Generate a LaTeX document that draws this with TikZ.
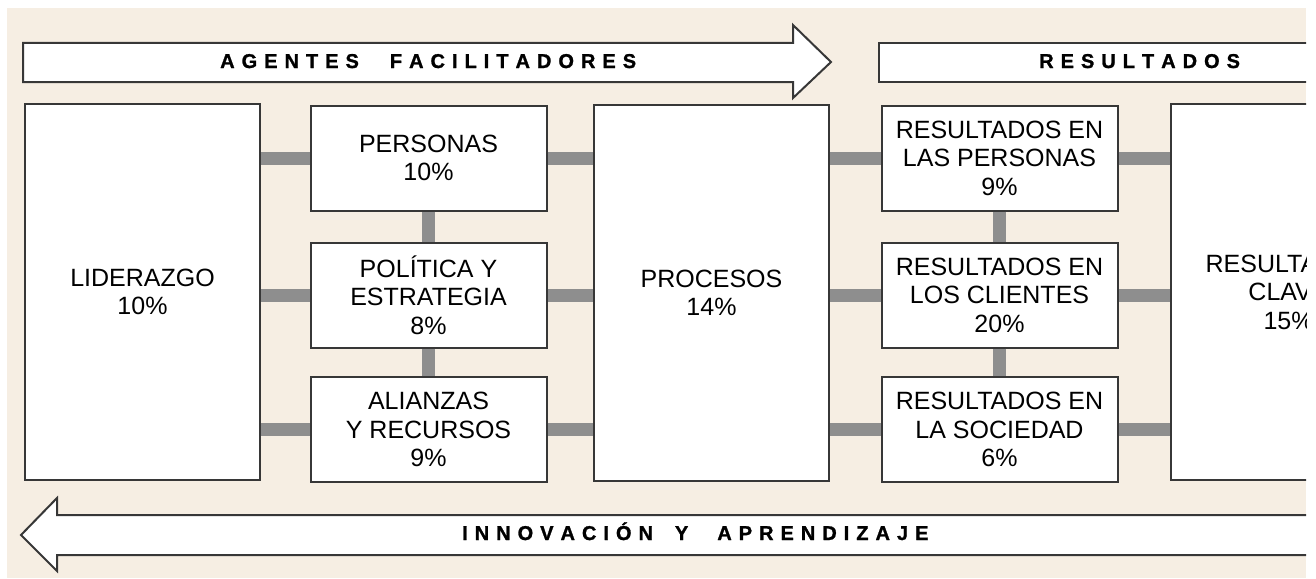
\documentclass[tikz,border=0pt]{standalone}
\usepackage{fontspec}
\setmainfont{Liberation Sans}
\newfontfamily\heavyfont[FakeBold=1.2]{Liberation Sans Bold}
\newlength\lsp
\setlength\lsp{7pt}
\makeatletter
\newcommand\spw[1]{\@tfor\@ch:=#1\do{\@ch\hspace{\lsp}}\unskip}
\makeatother
\definecolor{bgbeige}{RGB}{246,238,227}
\definecolor{edgegrey}{RGB}{55,55,55}
\definecolor{bargrey}{RGB}{142,142,142}
\tikzset{
  box/.style={draw=edgegrey, line width=2pt, fill=white, inner sep=0pt, align=center,
    font=\fontsize{25}{28.5}\selectfont},
  bigbox/.style={box, minimum width=235pt, minimum height=376pt},
  smallbox/.style={box, minimum width=236pt, minimum height=105pt},
  bar/.style={draw=bargrey, line width=13pt, line cap=butt},
  banner/.style={draw=edgegrey, line width=2pt, fill=white, line join=miter},
  lbl/.style={inner sep=0pt, anchor=base west, font=\heavyfont\fontsize{20}{22}\selectfont}
}
\begin{document}
\begin{tikzpicture}[x=1pt,y=-1pt]
\useasboundingbox (0,0) rectangle (1316,578);
\fill[bgbeige] (7,8) rectangle (1306,578);
\begin{scope}
\clip (7,8) rectangle (1306,578);
% banners
\draw[banner] (23,43) -- (793,43) -- (793,25) -- (831,62) -- (793,98) -- (793,82) -- (23,82) -- cycle;
\draw[banner] (879,43) rectangle (1420,82);
\draw[banner] (1340,515) -- (57,515) -- (57,498) -- (21,535) -- (57,571) -- (57,555) -- (1340,555) -- cycle;
\node[lbl] (agentes) at (220,68) {\spw{AGENTES}\hspace{31pt}\spw{FACILITADORES}};
\node[lbl] (resultados) at (1039,68) {\spw{RESULTADOS}};
\node[lbl] (innovacion) at (462,540) {\spw{INNOVACIÓN}\hspace{22pt}\spw{Y}\hspace{29pt}\spw{APRENDIZAJE}};
% boxes
\node[bigbox] (lid) at (142.5,292) {LIDERAZGO\\10\%};
\node[smallbox] (per) at (428.5,158) {PERSONAS\\10\%};
\node[smallbox] (pol) at (428.5,295) {POLÍTICA Y\\ESTRATEGIA\\8\%};
\node[smallbox] (ali) at (428.5,429.5) {ALIANZAS\\Y RECURSOS\\9\%};
\node[bigbox] (pro) at (711.5,293) {PROCESOS\\14\%};
\node[smallbox] (rp) at (999.5,158) {RESULTADOS EN\\LAS PERSONAS\\9\%};
\node[smallbox] (rc) at (999.5,295) {RESULTADOS EN\\LOS CLIENTES\\20\%};
\node[smallbox] (rs) at (999.5,429.5) {RESULTADOS EN\\LA SOCIEDAD\\6\%};
\node[bigbox] (rk) at (1288.5,292) {RESULTADOS\\CLAVE\\15\%};
% connectors
\foreach \s in {per,pol,ali}{
  \draw[bar] (lid.east |- \s.west) -- (\s.west);
  \draw[bar] (\s.east) -- (\s.east -| pro.west);
}
\foreach \s in {rp,rc,rs}{
  \draw[bar] (pro.east |- \s.west) -- (\s.west);
  \draw[bar] (\s.east) -- (\s.east -| rk.west);
}
\draw[bar] (per.south) -- (pol.north);
\draw[bar] (pol.south) -- (ali.north);
\draw[bar] (rp.south) -- (rc.north);
\draw[bar] (rc.south) -- (rs.north);
\end{scope}
\end{tikzpicture}
\end{document}
